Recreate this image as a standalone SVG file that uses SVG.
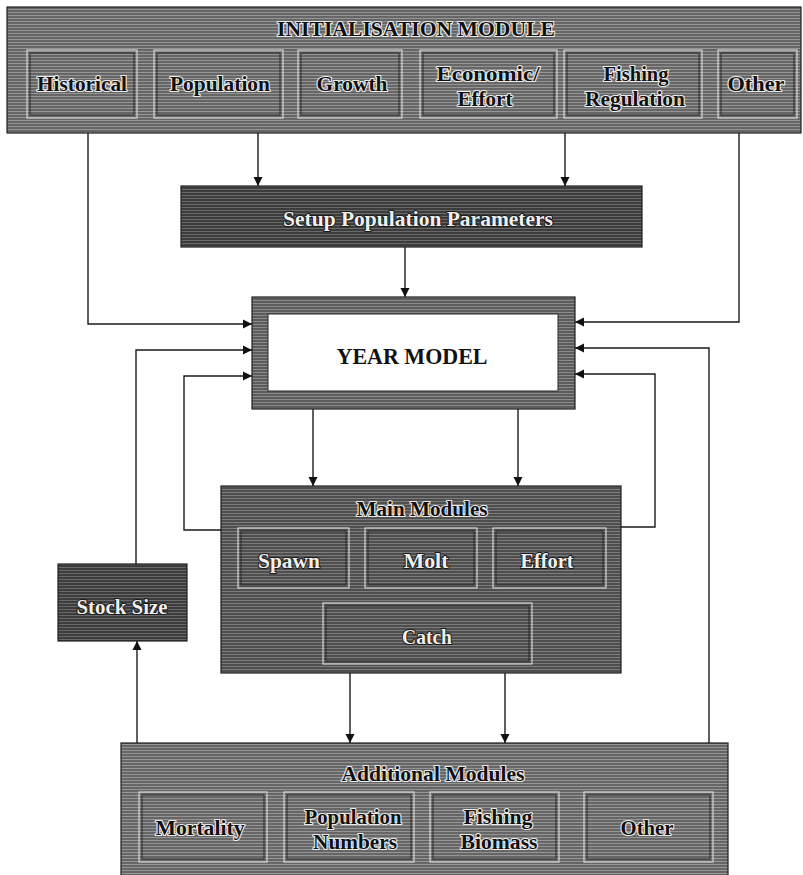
<svg xmlns="http://www.w3.org/2000/svg" width="803" height="875" viewBox="0 0 803 875">
  <style>
    .lbl { font-family: "Liberation Serif", "Times New Roman", serif; font-weight: bold; font-size: 21px; text-anchor: middle; fill: #111; stroke: #eeeeee; stroke-width: 2.2px; paint-order: stroke; stroke-linejoin: round; }
    .inv { fill: #f0f0f0; stroke: #1a1a1a; stroke-width: 2px; }
    .year { font-family: "Liberation Serif", "Times New Roman", serif; font-weight: bold; font-size: 23px; text-anchor: middle; fill: #111; }
    .outer { stroke: #1e1e1e; stroke-width: 1.2; }
    .hi { fill: none; stroke: #d4d4d4; stroke-width: 1.2; }
    .lo { fill: none; stroke: #2a2a2a; stroke-width: 1; }
    .wire { fill: none; stroke: #1a1a1a; stroke-width: 1.4; }
    .arr { marker-end: url(#ah); }
  </style>
  <defs>
    <!-- scanned halftone fills: grey ground with pale horizontal raster lines -->
    <pattern id="texMid" width="7" height="3" patternUnits="userSpaceOnUse">
      <rect width="7" height="3" fill="#5c5c5c"/>
      <rect width="7" height="1" fill="#8a8a8a"/>
    </pattern>
    <pattern id="texLight" width="7" height="3" patternUnits="userSpaceOnUse">
      <rect width="7" height="3" fill="#666"/>
      <rect width="7" height="1" fill="#959595"/>
    </pattern>
    <pattern id="texDark" width="7" height="3" patternUnits="userSpaceOnUse">
      <rect width="7" height="3" fill="#3c3c3c"/>
      <rect width="7" height="1" fill="#6a6a6a"/>
    </pattern>
    <pattern id="texMain" width="7" height="3" patternUnits="userSpaceOnUse">
      <rect width="7" height="3" fill="#4e4e4e"/>
      <rect width="7" height="1" fill="#7c7c7c"/>
    </pattern>
    <marker id="ah" viewBox="0 0 10 10" refX="10" refY="5" markerWidth="9" markerHeight="10" markerUnits="userSpaceOnUse" orient="auto">
      <path d="M0,0 L10,5 L0,10 z" fill="#111"/>
    </marker>
  </defs>

  <rect width="803" height="875" fill="#fff"/>

  <!-- connectors -->
  <g id="connectors">
    <path class="wire arr" d="M88,133 V324 H252"/>
    <path class="wire arr" d="M258,133 V186"/>
    <path class="wire arr" d="M565,133 V186"/>
    <path class="wire arr" d="M739,133 V322 H575"/>
    <path class="wire arr" d="M405,247 V297"/>
    <path class="wire arr" d="M136,564 V350 H252"/>
    <path class="wire arr" d="M221,530 H184 V376 H252"/>
    <path class="wire arr" d="M621,527 H655 V374 H575"/>
    <path class="wire arr" d="M709,743 V348 H575"/>
    <path class="wire arr" d="M313,409 V486"/>
    <path class="wire arr" d="M518,409 V486"/>
    <path class="wire arr" d="M350,673 V743"/>
    <path class="wire arr" d="M505,673 V743"/>
    <path class="wire arr" d="M137,743 V641"/>
  </g>

  <!-- initialisation module -->
  <g id="initialisation-module">
    <rect class="outer" x="7" y="7" width="794" height="126" fill="url(#texLight)"/>
    <text class="lbl" x="416" y="36" textLength="278" lengthAdjust="spacingAndGlyphs">INITIALISATION MODULE</text>
    <g id="historical">
      <rect x="27" y="50" width="110" height="68" fill="url(#texLight)" class="hi"/>
      <rect x="30" y="53" width="104" height="62" class="lo"/>
      <text class="lbl" x="82" y="91" textLength="90" lengthAdjust="spacingAndGlyphs">Historical</text>
    </g>
    <g id="population">
      <rect x="154" y="50" width="129" height="68" fill="url(#texLight)" class="hi"/>
      <rect x="157" y="53" width="123" height="62" class="lo"/>
      <text class="lbl" x="220" y="91" textLength="100" lengthAdjust="spacingAndGlyphs">Population</text>
    </g>
    <g id="growth">
      <rect x="298" y="50" width="104" height="68" fill="url(#texLight)" class="hi"/>
      <rect x="301" y="53" width="98" height="62" class="lo"/>
      <text class="lbl" x="352" y="91" textLength="71" lengthAdjust="spacingAndGlyphs">Growth</text>
    </g>
    <g id="economic-effort">
      <rect x="420" y="50" width="137" height="68" fill="url(#texLight)" class="hi"/>
      <rect x="423" y="53" width="131" height="62" class="lo"/>
      <text class="lbl" x="488" y="81" textLength="103" lengthAdjust="spacingAndGlyphs">Economic/</text>
      <text class="lbl" x="485" y="106" textLength="55" lengthAdjust="spacingAndGlyphs">Effort</text>
    </g>
    <g id="fishing-regulation">
      <rect x="564" y="50" width="138" height="68" fill="url(#texLight)" class="hi"/>
      <rect x="567" y="53" width="132" height="62" class="lo"/>
      <text class="lbl" x="636" y="81" textLength="65" lengthAdjust="spacingAndGlyphs">Fishing</text>
      <text class="lbl" x="635" y="106" textLength="100" lengthAdjust="spacingAndGlyphs">Regulation</text>
    </g>
    <g id="other-init">
      <rect x="718" y="50" width="79" height="68" fill="url(#texLight)" class="hi"/>
      <rect x="721" y="53" width="73" height="62" class="lo"/>
      <text class="lbl" x="756" y="91" textLength="57" lengthAdjust="spacingAndGlyphs">Other</text>
    </g>
  </g>

  <!-- setup -->
  <g id="setup-population-parameters">
    <rect class="outer" x="181" y="186" width="461" height="61" fill="url(#texDark)"/>
    <text class="lbl inv" x="418" y="226" textLength="270" lengthAdjust="spacingAndGlyphs">Setup Population Parameters</text>
  </g>

  <!-- year model -->
  <g id="year-model">
    <rect class="outer" x="252" y="297" width="323" height="112" fill="url(#texMid)"/>
    <rect x="268" y="314" width="290" height="77" fill="#fff" stroke="#2a2a2a" stroke-width="1"/>
    <text class="year" x="412" y="364" textLength="151" lengthAdjust="spacingAndGlyphs">YEAR MODEL</text>
  </g>

  <!-- main modules -->
  <g id="main-modules">
    <rect class="outer" x="221" y="486" width="400" height="187" fill="url(#texMain)"/>
    <text class="lbl" x="422" y="516" textLength="131" lengthAdjust="spacingAndGlyphs">Main Modules</text>
    <g id="spawn">
      <rect x="238" y="528" width="111" height="60" fill="url(#texMain)" class="hi"/>
      <rect x="241" y="531" width="105" height="54" class="lo"/>
      <text class="lbl inv" x="289" y="568" textLength="62" lengthAdjust="spacingAndGlyphs">Spawn</text>
    </g>
    <g id="molt">
      <rect x="365" y="528" width="112" height="60" fill="url(#texMain)" class="hi"/>
      <rect x="368" y="531" width="106" height="54" class="lo"/>
      <text class="lbl inv" x="426" y="568" textLength="45" lengthAdjust="spacingAndGlyphs">Molt</text>
    </g>
    <g id="effort">
      <rect x="493" y="528" width="113" height="60" fill="url(#texMain)" class="hi"/>
      <rect x="496" y="531" width="107" height="54" class="lo"/>
      <text class="lbl inv" x="547" y="568" textLength="53" lengthAdjust="spacingAndGlyphs">Effort</text>
    </g>
    <g id="catch">
      <rect x="323" y="603" width="209" height="61" fill="url(#texMain)" class="hi"/>
      <rect x="326" y="606" width="203" height="55" class="lo"/>
      <text class="lbl inv" x="427" y="644" textLength="50" lengthAdjust="spacingAndGlyphs">Catch</text>
    </g>
  </g>

  <!-- stock size -->
  <g id="stock-size">
    <rect class="outer" x="58" y="564" width="129" height="77" fill="url(#texDark)"/>
    <text class="lbl inv" x="122" y="614" textLength="91" lengthAdjust="spacingAndGlyphs">Stock Size</text>
  </g>

  <!-- additional modules -->
  <g id="additional-modules">
    <rect class="outer" x="121" y="743" width="607" height="140" fill="url(#texLight)"/>
    <text class="lbl" x="433" y="781" textLength="183" lengthAdjust="spacingAndGlyphs">Additional Modules</text>
    <g id="mortality">
      <rect x="139" y="792" width="128" height="70" fill="url(#texLight)" class="hi"/>
      <rect x="142" y="795" width="122" height="64" class="lo"/>
      <text class="lbl" x="200" y="835" textLength="89" lengthAdjust="spacingAndGlyphs">Mortality</text>
    </g>
    <g id="population-numbers">
      <rect x="284" y="792" width="130" height="70" fill="url(#texLight)" class="hi"/>
      <rect x="287" y="795" width="124" height="64" class="lo"/>
      <text class="lbl" x="353" y="824" textLength="97" lengthAdjust="spacingAndGlyphs">Population</text>
      <text class="lbl" x="355" y="849" textLength="84" lengthAdjust="spacingAndGlyphs">Numbers</text>
    </g>
    <g id="fishing-biomass">
      <rect x="430" y="792" width="129" height="70" fill="url(#texLight)" class="hi"/>
      <rect x="433" y="795" width="123" height="64" class="lo"/>
      <text class="lbl" x="498" y="824" textLength="69" lengthAdjust="spacingAndGlyphs">Fishing</text>
      <text class="lbl" x="499" y="849" textLength="77" lengthAdjust="spacingAndGlyphs">Biomass</text>
    </g>
    <g id="other-additional">
      <rect x="584" y="792" width="129" height="70" fill="url(#texLight)" class="hi"/>
      <rect x="587" y="795" width="123" height="64" class="lo"/>
      <text class="lbl" x="647" y="835" textLength="53" lengthAdjust="spacingAndGlyphs">Other</text>
    </g>
  </g>
</svg>
